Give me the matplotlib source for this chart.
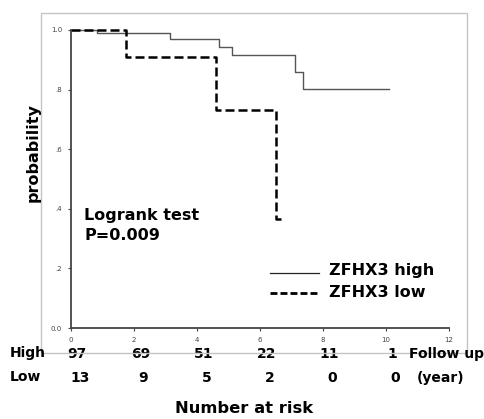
import numpy as np
import matplotlib as mpl
mpl.use("Agg")
import matplotlib.pyplot as plt
import matplotlib.transforms as mtransforms
from matplotlib.patches import Rectangle
from matplotlib.lines import Line2D

mpl.rcParams['font.family'] = 'DejaVu Sans'

# Kaplan-Meier step data
high_t = [0, 0.83, 3.14, 4.70, 5.11, 7.11, 7.37, 10.08]
high_s = [1.0, 0.990, 0.971, 0.944, 0.915, 0.860, 0.802, 0.802]
low_t = [0, 1.75, 4.60, 6.50, 6.73]
low_s = [1.0, 0.911, 0.732, 0.366, 0.366]

# numbers at risk
risk_years = [0, 2, 4, 6, 8, 10]
risk_high = [97, 69, 51, 22, 11, 1]
risk_low = [13, 9, 5, 2, 0, 0]

xticks = [0, 2, 4, 6, 8, 10, 12]
yticks = [0.0, 0.2, 0.4, 0.6, 0.8, 1.0]
ytick_labels = ["0.0", ".2", ".4", ".6", ".8", "1.0"]

W, H = 484, 419
fig = plt.figure(figsize=(W / 100, H / 100), dpi=100)

def fx(px):
    return px / W

def fy(py):
    return 1 - py / H

# light grey frame behind the plot
fig.patches.append(Rectangle((fx(41), fy(353)), fx(467) - fx(41), fy(13) - fy(353),
                             transform=fig.transFigure, fill=False,
                             edgecolor="#c4c4c4", linewidth=1.0, zorder=0))

ax = fig.add_axes([fx(71), fy(328), fx(449) - fx(71), fy(30) - fy(328)])
ax.patch.set_alpha(0)

ax.step(high_t, high_s, where="post", color="#555555", linewidth=1.0, clip_on=False)
ax.step(low_t, low_s, where="post", color="black", linewidth=1.8,
        linestyle=(0, (3.6, 1.6)), clip_on=False)

ax.set_xlim(0, 12)
ax.set_ylim(0, 1.0)
ax.set_xticks(xticks)
ax.set_xticklabels([str(t) for t in xticks])
ax.set_yticks(yticks)
ax.set_yticklabels(ytick_labels)
ax.tick_params(labelsize=5, colors="#444444", length=2.5, width=0.8, pad=4)
for side in ["top", "right"]:
    ax.spines[side].set_visible(False)
for side in ["left", "bottom"]:
    ax.spines[side].set_color("#444444")
    ax.spines[side].set_linewidth(1.3)

fig.text(fx(33), fy(153), "probability", rotation=90, ha="center", va="center",
         fontsize=11.5, fontweight="bold")

fig.text(fx(84), fy(215), "Logrank test", ha="left", va="center",
         fontsize=11.5, fontweight="bold")
fig.text(fx(84), fy(235), "P=0.009", ha="left", va="center",
         fontsize=11.5, fontweight="bold")

# legend drawn by hand
fig.lines.append(Line2D([fx(270), fx(319)], [fy(273), fy(273)], transform=fig.transFigure,
                        color="#222222", linewidth=0.9))
fig.lines.append(Line2D([fx(270), fx(319)], [fy(293), fy(293)], transform=fig.transFigure,
                        color="black", linewidth=2.0, linestyle=(0, (2.5, 1.1))))
fig.text(fx(329), fy(271), "ZFHX3 high", ha="left", va="center",
         fontsize=11.5, fontweight="bold")
fig.text(fx(329), fy(292), "ZFHX3 low", ha="left", va="center",
         fontsize=11.5, fontweight="bold")

# number-at-risk table
trans = mtransforms.blended_transform_factory(ax.transData, fig.transFigure)
for yr, h, l in zip(risk_years, risk_high, risk_low):
    ax.text(yr + 0.2, fy(354), str(h), transform=trans, ha="center", va="center",
            fontsize=10, fontweight="bold", clip_on=False)
    ax.text(yr + 0.3, fy(378), str(l), transform=trans, ha="center", va="center",
            fontsize=10, fontweight="bold", clip_on=False)

fig.text(fx(10), fy(353), "High", ha="left", va="center", fontsize=10, fontweight="bold")
fig.text(fx(10), fy(377), "Low", ha="left", va="center", fontsize=10, fontweight="bold")
fig.text(fx(484), fy(354), "Follow up", ha="right", va="center", fontsize=10, fontweight="bold")
fig.text(fx(441), fy(378), "(year)", ha="center", va="center", fontsize=10, fontweight="bold")
fig.text(fx(244), fy(408), "Number at risk", ha="center", va="center",
         fontsize=11.8, fontweight="bold")

fig.savefig("out.png", dpi=100)
